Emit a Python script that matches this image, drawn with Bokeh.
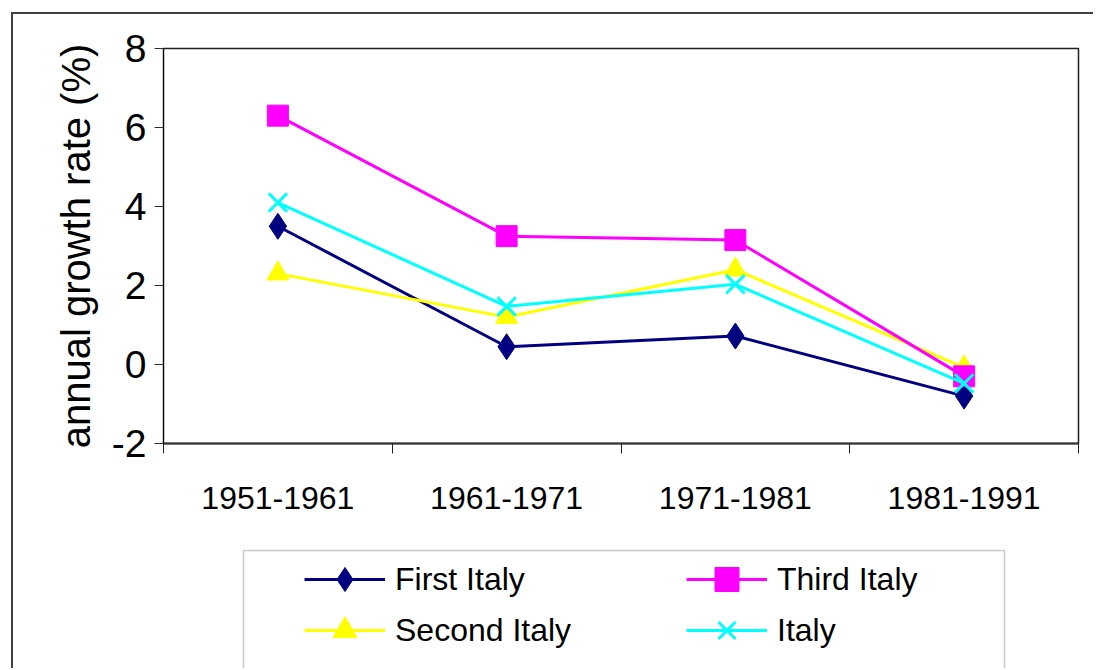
from bokeh.plotting import figure
from bokeh.layouts import column
from bokeh.models import (FixedTicker, Legend, LegendItem, BoxAnnotation,
                          Range1d)
from bokeh.embed import file_html
from bokeh.resources import INLINE

# ---- data ----
periods = ["1951-1961", "1961-1971", "1971-1981", "1981-1991"]
first_italy = [3.5, 0.45, 0.72, -0.8]
second_italy = [2.3, 1.2, 2.4, -0.08]
third_italy = [6.3, 3.25, 3.15, -0.3]
italy = [4.1, 1.47, 2.03, -0.48]
y_ticks = [-2, 0, 2, 4, 6, 8]
y_tick_labels = ["-2", "0", "2", "4", "6", "8"]

xpos = [i + 0.5 for i in range(len(periods))]

FONT = "Liberation Sans"

series = [
    ("First Italy", first_italy, "#000080", "diamond", 26),
    ("Second Italy", second_italy, "#FFFF00", "triangle", 22),
    ("Third Italy", third_italy, "#FF00FF", "square", 21),
    ("Italy", italy, "#00FFFF", "x", 26),
]

# ---------------- main chart ----------------
p = figure(width=1080, height=526, output_backend="svg", toolbar_location=None,
           x_range=Range1d(0, len(periods)), y_range=Range1d(-2, 8),
           min_border_left=150, min_border_right=15, min_border_top=34,
           min_border_bottom=97)
p.background_fill_color = "white"
p.border_fill_color = "white"
p.outline_line_color = "#202020"
p.outline_line_width = 1.5
p.xgrid.visible = False
p.ygrid.visible = False

ya = p.yaxis[0]
ya.ticker = FixedTicker(ticks=y_ticks, minor_ticks=[])
ya.major_label_overrides = {t: s for t, s in zip(y_ticks, y_tick_labels)}
ya.major_tick_in = 0
ya.major_tick_out = 9
ya.minor_tick_out = 0
ya.axis_line_color = "black"
ya.major_tick_line_color = "#303030"
ya.major_label_text_font = FONT
ya.major_label_text_font_size = "39px"
ya.major_label_text_color = "black"
ya.major_label_standoff = 8
ya.axis_label = "annual growth rate (%)"
ya.axis_label_text_font = FONT
ya.axis_label_text_font_size = "40px"
ya.axis_label_text_font_style = "normal"
ya.axis_label_text_color = "black"
ya.axis_label_standoff = 11

xa = p.xaxis[0]
xa.ticker = FixedTicker(ticks=xpos, minor_ticks=list(range(len(periods) + 1)))
xa.major_label_overrides = {x: lab for x, lab in zip(xpos, periods)}
xa.major_tick_in = 0
xa.major_tick_out = 0
xa.minor_tick_in = 0
xa.minor_tick_out = 10
xa.minor_tick_line_color = "#202020"
xa.axis_line_color = "#303030"
xa.axis_line_width = 2
xa.major_label_text_font = FONT
xa.major_label_text_font_size = "32px"
xa.major_label_text_color = "black"
xa.major_label_standoff = 33

for name, vals, col, marker, size in series:
    p.line(xpos, vals, line_color=col, line_width=3)
    if marker == "x":
        p.scatter(xpos, vals, marker=marker, size=size, line_color=col,
                  line_width=3)
    else:
        p.scatter(xpos, vals, marker=marker, size=size, fill_color=col,
                  line_color=col, line_width=1)

# ---------------- legend panel ----------------
lf = figure(width=1080, height=128, output_backend="svg", toolbar_location=None,
            x_range=Range1d(100, 101), y_range=Range1d(100, 101),
            x_axis_location=None, y_axis_location=None,
            min_border=0, min_border_left=0, min_border_right=0,
            min_border_top=0, min_border_bottom=0)
lf.outline_line_color = None
lf.xgrid.visible = False
lf.ygrid.visible = False
lf.background_fill_color = "white"
lf.border_fill_color = "white"

items = []
for name, vals, col, marker, size in series:
    lr = lf.line(xpos, vals, line_color=col, line_width=3)
    if marker == "x":
        sr = lf.scatter(xpos, vals, marker=marker, size=size, line_color=col,
                        line_width=3)
    else:
        sr = lf.scatter(xpos, vals, marker=marker, size=size, fill_color=col,
                        line_color=col, line_width=1)
    items.append(LegendItem(label=name, renderers=[lr, sr]))

legbox = BoxAnnotation(left=230, top=10, right=991, bottom=400,
                       left_units="canvas", right_units="canvas",
                       top_units="canvas", bottom_units="canvas",
                       fill_alpha=0, line_color="#505050", line_width=1.5)
lf.add_layout(legbox)


def mk_legend(item, x, y):
    return Legend(items=[item], location=(x, y), orientation="vertical",
                  border_line_color=None, background_fill_alpha=0,
                  padding=0, margin=0, spacing=0,
                  glyph_width=81, glyph_height=60, label_height=60,
                  label_standoff=10, label_text_font=FONT,
                  label_text_font_size="32px", label_text_color="black")


# column 1: First Italy / Second Italy ; column 2: Third Italy / Italy
lf.add_layout(mk_legend(items[0], 141, 59), "center")
lf.add_layout(mk_legend(items[1], 141, 8), "center")
lf.add_layout(mk_legend(items[2], 523, 59), "center")
lf.add_layout(mk_legend(items[3], 523, 8), "center")

layout = column(p, lf, spacing=0, margin=(12, 0, 0, 11),
                styles={"border-left": "2px solid #404040",
                        "border-top": "2px solid #404040"})

open("out.html", "w").write(file_html(layout, INLINE))
